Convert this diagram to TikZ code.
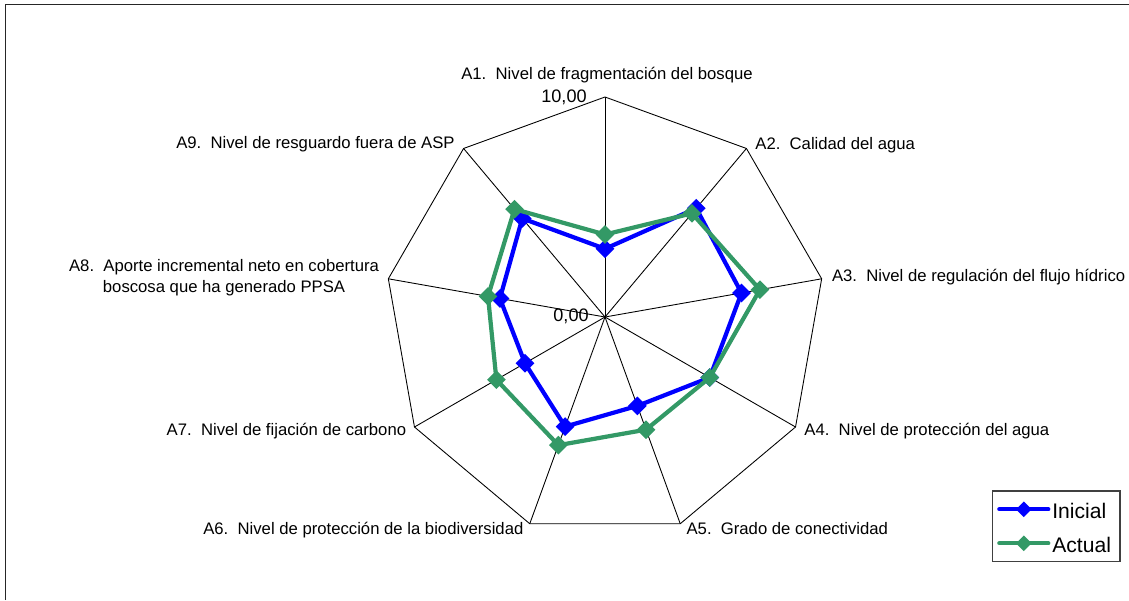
\documentclass[tikz,border=0pt]{standalone}
\usepackage{fontspec}
\setmainfont{Liberation Sans}
\usetikzlibrary{calc,shapes.geometric}
\definecolor{seagreen}{RGB}{51,153,102}

\begin{document}
\begin{tikzpicture}[x=0.02cm,y=0.02cm,
  grid line/.style={black,line width=0.5pt},
  axis label/.style={font=\fontsize{9.5}{12}\selectfont,inner sep=0pt},
  scale label/.style={font=\fontsize{10.3}{12}\selectfont,inner sep=0pt},
  legend label/.style={font=\fontsize{12}{14}\selectfont,inner sep=0pt,anchor=base west},
  serie/.style={line width=2.4pt,line join=round},
  rombo/.style={diamond,fill,inner sep=0pt,minimum size=0.38cm}]

\useasboundingbox (0,0) rectangle (1129,600);
\draw[line width=0.9pt,black!85] (5.5,0) -- (5.5,595.5) -- (1129,595.5);

\coordinate (O) at (605,283);
\foreach \i in {1,...,9}
  \coordinate (V\i) at ($(O)+({130-40*\i}:220)$);

% rejilla
\draw[grid line] (V1) \foreach \i in {2,...,9}{-- (V\i)} -- cycle;
\foreach \i in {1,...,9}
  \draw[grid line] (O) -- (V\i);

\node[scale label,anchor=base east] (max) at ($(V1)+(-18,-5.3)$) {10,00};
\node[scale label,anchor=base east] (min) at ($(O)+(-16,-4.7)$) {0,00};

% series
\foreach \v [count=\i] in {3.1,6.45,6.3,5.5,4.3,5.3,4.2,4.85,5.85}
  \coordinate (ini\i) at ($(O)+({130-40*\i}:{22*\v})$);
\foreach \v [count=\i] in {3.75,6.15,7.15,5.5,5.45,6.2,5.7,5.4,6.4}
  \coordinate (act\i) at ($(O)+({130-40*\i}:{22*\v})$);

\draw[serie,blue] (ini1) \foreach \i in {2,...,9}{-- (ini\i)} -- cycle;
\foreach \i in {1,...,9}
  \node[rombo,blue] (mi\i) at (ini\i) {};
\draw[serie,seagreen] (act1) \foreach \i in {2,...,9}{-- (act\i)} -- cycle;
\foreach \i in {1,...,9}
  \node[rombo,seagreen] (ma\i) at (act\i) {};

% ejes
\node[axis label,anchor=base] (L1) at ($(V1)+(2,18)$) {A1.\ \ Nivel de fragmentación del bosque};
\node[axis label,anchor=base west] (L2) at ($(V2)+(8.6,-1)$) {A2.\ \ Calidad del agua};
\node[axis label,anchor=base west] (L3) at ($(V3)+(10,-3)$) {A3.\ \ Nivel de regulación del flujo hídrico};
\node[axis label,anchor=base west] (L4) at ($(V4)+(8.5,-8)$) {A4.\ \ Nivel de protección del agua};
\node[axis label,anchor=base west] (L5) at ($(V5)+(6,-11)$) {A5.\ \ Grado de conectividad};
\node[axis label,anchor=base east] (L6) at ($(V6)+(-6,-11)$) {A6.\ \ Nivel de protección de la biodiversidad};
\node[axis label,anchor=base east] (L7) at ($(V7)+(-8,-8)$) {A7.\ \ Nivel de fijación de carbono};
\node[axis label,anchor=east,align=center] (L8) at ($(V8)+(-9,1)$) {A8.\ \ Aporte incremental neto en cobertura\\boscosa que ha generado PPSA};
\node[axis label,anchor=base east] (L9) at ($(V9)+(-8.6,0)$) {A9.\ \ Nivel de resguardo fuera de ASP};

% leyenda
\node[draw=black!75,line width=0.8pt,minimum width=2.555cm,minimum height=1.414cm,inner sep=0pt] (ley) at (1056.2,73.7) {};
\coordinate (li1) at (999.3,90.7);
\coordinate (li2) at (1048.3,90.7);
\coordinate (la1) at (999.3,56.7);
\coordinate (la2) at (1048.3,56.7);
\draw[serie,blue,line cap=round] (li1) -- (li2);
\node[rombo,blue,minimum size=0.32cm] (mli) at ($(li1)!0.5!(li2)$) {};
\draw[serie,seagreen,line cap=round] (la1) -- (la2);
\node[rombo,seagreen,minimum size=0.32cm] (mla) at ($(la1)!0.5!(la2)$) {};
\node[legend label] (ti) at (1052,81.7) {Inicial};
\node[legend label] (ta) at (1052,47.3) {Actual};
\end{tikzpicture}
\end{document}
